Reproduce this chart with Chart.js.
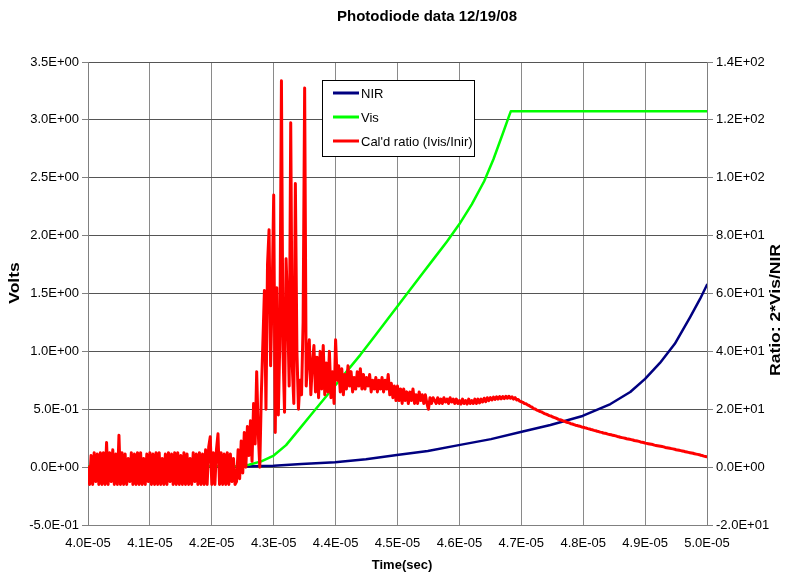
<!DOCTYPE html>
<html>
<head>
<meta charset="utf-8">
<script src="https://cdn.jsdelivr.net/npm/chart.js@4.4.1/dist/chart.umd.min.js"></script>
<style>
  html, body { margin: 0; padding: 0; background: #ffffff; }
  #wrap { width: 790px; height: 573px; }
</style>
</head>
<body>
<div id="wrap"><canvas id="chart" width="790" height="573"></canvas></div>
<script>
// Photodiode traces, 12/19/08
const chartTitle = 'Photodiode data 12/19/08';
const seriesNames = ['NIR', 'Vis', "Cal'd ratio (Ivis/Inir)"];

// NIR photodiode (volts, left axis)
const nirTime = [40.00e-6, 41.00e-6, 42.00e-6, 42.48e-6, 43.00e-6, 43.45e-6, 43.99e-6, 44.49e-6,
  44.99e-6, 45.49e-6, 45.99e-6, 46.51e-6, 46.99e-6, 47.47e-6, 47.99e-6, 48.44e-6, 48.76e-6,
  49.00e-6, 49.24e-6, 49.48e-6, 49.73e-6, 49.89e-6, 50.00e-6];
const nirVolts = [0.000, 0.002, 0.004, 0.005, 0.012, 0.026, 0.043, 0.069,
  0.104, 0.139, 0.190, 0.242, 0.303, 0.364, 0.442, 0.545, 0.649,
  0.762, 0.900, 1.065, 1.299, 1.455, 1.576];

// Visible photodiode (volts, left axis) - saturates near 3.07 V
const visTime = [40.00e-6, 41.00e-6, 42.00e-6, 42.40e-6, 42.60e-6, 42.80e-6, 43.00e-6, 43.20e-6,
  43.40e-6, 43.60e-6, 43.80e-6, 44.00e-6, 44.20e-6, 44.40e-6, 44.60e-6, 44.80e-6, 45.00e-6,
  45.20e-6, 45.40e-6, 45.60e-6, 45.80e-6, 46.00e-6, 46.20e-6, 46.40e-6, 46.55e-6, 46.70e-6,
  46.80e-6, 46.83e-6, 50.00e-6];
const visVolts = [0.005, 0.006, 0.008, 0.010, 0.020, 0.050, 0.100, 0.190,
  0.320, 0.450, 0.580, 0.710, 0.840, 0.970, 1.110, 1.250, 1.390,
  1.530, 1.670, 1.810, 1.950, 2.100, 2.270, 2.470, 2.660, 2.880,
  3.030, 3.074, 3.074];

// Calibrated ratio (right axis), one sample per scope clock tick
const ratioStart = 40e-6;
const ratioStep = 0.025e-6;
const ratioValues = [
  0, -6, 4, -6, 5, -5, 4.5, -6, 5, -6,
  5, -6, 8.5, -6, 5, -5, 6, -6, 4.5, -6,
  11, -6, 5, -6, 4.5, -6, 3, -5, 5, -6,
  4.5, -6, 5, -6, 5, -6, 3, -6, 4.5, -5,
  5, -6, 4.5, -6, 5, -6, 5, -6, 3, -6,
  4.5, -6, 5, -5, 4.5, -6, 5, -6, 5, -6,
  4, -6, 5, -6, 4.5, -6, 3, -6, 5, -5,
  4.5, -6, 5, -6, 4.5, -6, 6, -6, 7, 10.5,
  -6, 5, -6, 6, 11.5, -6, 5, -6, 4.5, -6,
  5, -6, 4.5, -5, 3, -6,
  -5, 6, -4, 9, -2, 12, 0, 14, 4, 16,
  2, 22, 8, 33, 12, 0, 25, 43, 61, 20,
  70, 82, 35, 60, 94, 12, 62, 18, 45, 133.5,
  40, 19, 72, 55, 28, 119, 35, 22, 98, 40,
  20, 30, 25, 50, 131, 28, 38, 44, 25, 36,
  42, 26, 38, 24, 40, 27, 42, 25, 36, 26,
  40, 24, 33, 22, 44, 30, 35, 26, 34, 25,
  32, 27, 35, 28, 33, 26, 31, 27, 33, 28,
  34, 27,
  32, 27, 31, 28, 32, 26, 30, 27, 31, 26,
  30, 27, 31, 26, 30, 27, 32, 25, 29, 24,
  28, 23,
  28, 23, 27, 22, 27, 23, 26, 22, 26, 23,
  27, 22, 25, 22, 26, 23, 25, 22, 25, 22,
  20, 24, 22, 24,
  23, 22, 24, 22, 23.5, 22, 24, 22.5, 23.5, 22,
  24, 22.5, 23.5, 22, 23.5, 22, 23, 21.8, 23.5, 22,
  23, 21.8, 23.5, 22, 23, 22, 23.5, 22, 23.5, 22.2,
  23.5, 22.5, 23.8, 22.6, 24,
  23, 24, 23.2, 24.2, 23.4, 24.3, 23.5, 24.4, 23.6, 24.4,
  23.7, 24.5, 23.8, 24.5, 23.8, 24.3, 23.5, 24, 23.2, 23.4,
  22.8,
  22.6, 22.4, 22.0, 21.9, 21.5, 21.3, 20.9, 20.7, 20.2, 20.1,
  19.7, 19.5, 19.2, 19.1, 18.8, 18.5, 18.3, 18.1, 17.8, 17.7,
  17.4, 17.2, 17.0, 16.8, 16.5, 16.4, 16.2, 16.0, 15.8, 15.6,
  15.4, 15.3, 15.0, 14.9, 14.7, 14.5, 14.4, 14.2, 14.1, 13.9,
  13.8, 13.6, 13.5, 13.3, 13.2, 13.0, 12.9, 12.7, 12.6, 12.4,
  12.3, 12.1, 12.0, 11.8, 11.7, 11.6, 11.4, 11.3, 11.2, 11.0,
  10.9, 10.8, 10.6, 10.5, 10.3, 10.2, 10.1, 10.0, 9.8, 9.7,
  9.6, 9.5, 9.4, 9.2, 9.1, 9.0, 8.9, 8.7, 8.6, 8.5,
  8.3, 8.2, 8.1, 8.0, 7.9, 7.8, 7.6, 7.5, 7.4, 7.3,
  7.2, 7.1, 7.0, 6.8, 6.7, 6.6, 6.5, 6.4, 6.3, 6.2,
  6.0, 5.9, 5.8, 5.7, 5.6, 5.5, 5.3, 5.2, 5.1, 5.0,
  4.9, 4.8, 4.6, 4.5, 4.4, 4.3, 4.1, 4.0, 3.8, 3.7,
  3.6
];

// Axis ranges and tick steps
const timeRange = [40e-6, 50e-6], timeStep = 1e-6;
const voltRange = [-0.5, 3.5], voltStep = 0.5;
const ratioRange = [-20, 140], ratioStepTick = 20;

const FONT = '"Liberation Sans", Arial, sans-serif';

function sci(v) {
  if (Math.abs(v) < 1e-20) return '0.0E+00';
  let e = Math.floor(Math.log10(Math.abs(v)));
  let m = v / Math.pow(10, e);
  if (Math.abs(m) >= 9.95) { m /= 10; e += 1; }
  return m.toFixed(1) + 'E' + (e < 0 ? '-' : '+') + String(Math.abs(e)).padStart(2, '0');
}

const pairs = (xs, ys) => xs.map((x, i) => ({ x: x, y: ys[i] }));
const ratioPoints = ratioValues.map((v, i) => ({ x: ratioStart + i * ratioStep, y: v }));

const decorations = {
  id: 'decorations',
  beforeDraw(chart) {
    const ctx = chart.ctx;
    ctx.save();
    ctx.fillStyle = '#ffffff';
    ctx.fillRect(0, 0, chart.width, chart.height);
    ctx.restore();
  },
  afterDraw(chart) {
    const ctx = chart.ctx;
    ctx.save();
    ctx.fillStyle = '#000000';
    ctx.textBaseline = 'middle';
    ctx.textAlign = 'left';
    ctx.font = 'bold 15px ' + FONT;
    ctx.fillText(chartTitle, 337, 17);
    ctx.textAlign = 'center';
    ctx.font = 'bold 13px ' + FONT;
    ctx.fillText('Time(sec)', 402, 565);

    // rotated axis titles are drawn slightly stretched along their length
    ctx.font = 'bold 14px ' + FONT;
    ctx.save();
    ctx.translate(15, 283);
    ctx.rotate(-Math.PI / 2);
    ctx.scale(1.25, 1);
    ctx.fillText('Volts', 0, 0);
    ctx.restore();

    ctx.save();
    ctx.translate(776, 310);
    ctx.rotate(-Math.PI / 2);
    ctx.scale(1.25, 1);
    ctx.fillText('Ratio: 2*Vis/NIR', 0, 0);
    ctx.restore();

    // legend box
    const bx = 322.5, by = 80.5, bw = 152, bh = 76;
    ctx.fillStyle = '#ffffff';
    ctx.fillRect(bx, by, bw, bh);
    ctx.strokeStyle = '#000000';
    ctx.lineWidth = 1;
    ctx.strokeRect(bx, by, bw, bh);
    ctx.font = '13px ' + FONT;
    ctx.textAlign = 'left';
    chart.data.datasets.forEach((ds, i) => {
      const y = 93 + i * 24;
      ctx.strokeStyle = ds.borderColor;
      ctx.lineWidth = 3;
      ctx.beginPath();
      ctx.moveTo(333, y);
      ctx.lineTo(359, y);
      ctx.stroke();
      ctx.fillStyle = '#000000';
      ctx.fillText(ds.label, 361, y + 1);
    });
    ctx.restore();
  }
};

new Chart(document.getElementById('chart'), {
  type: 'line',
  data: {
    datasets: [
      { label: seriesNames[0], data: pairs(nirTime, nirVolts), yAxisID: 'y',
        borderColor: '#000080', borderWidth: 2.5, pointRadius: 0, order: 3 },
      { label: seriesNames[1], data: pairs(visTime, visVolts), yAxisID: 'y',
        borderColor: '#00ff00', borderWidth: 2.5, pointRadius: 0, order: 2 },
      { label: seriesNames[2], data: ratioPoints, yAxisID: 'y2',
        borderColor: '#ff0000', borderWidth: 3, pointRadius: 0, order: 1 }
    ]
  },
  options: {
    responsive: false,
    animation: false,
    events: [],
    layout: { padding: { top: 62, left: 0, right: 0, bottom: 0 } },
    plugins: { legend: { display: false }, title: { display: false }, tooltip: { enabled: false } },
    elements: { line: { tension: 0, borderJoinStyle: 'round', borderCapStyle: 'round' } },
    scales: {
      x: {
        type: 'linear', position: 'bottom',
        min: timeRange[0], max: timeRange[1],
        afterFit(s) { s.height = 48; },
        border: { color: '#808080', width: 1 },
        grid: { color: '#8a8a8a', lineWidth: 1, drawTicks: false },
        ticks: { stepSize: timeStep, callback: v => sci(v), color: '#000000',
          font: { family: FONT, size: 13 }, maxRotation: 0, autoSkip: false, padding: 11 }
      },
      y: {
        type: 'linear', position: 'left',
        min: voltRange[0], max: voltRange[1],
        afterFit(s) { s.width = 88; },
        border: { color: '#808080', width: 1 },
        grid: { color: '#555555', lineWidth: 1, tickLength: 6, tickColor: '#808080' },
        ticks: { stepSize: voltStep, callback: v => sci(v), color: '#000000',
          font: { family: FONT, size: 13 }, padding: 3 }
      },
      y2: {
        type: 'linear', position: 'right',
        min: ratioRange[0], max: ratioRange[1],
        afterFit(s) { s.width = 83; },
        border: { color: '#808080', width: 1 },
        grid: { drawOnChartArea: false, tickLength: 6, color: '#808080' },
        ticks: { stepSize: ratioStepTick, callback: v => sci(v), color: '#000000',
          font: { family: FONT, size: 13 }, padding: 3 }
      }
    }
  },
  plugins: [decorations]
});
</script>
</body>
</html>
